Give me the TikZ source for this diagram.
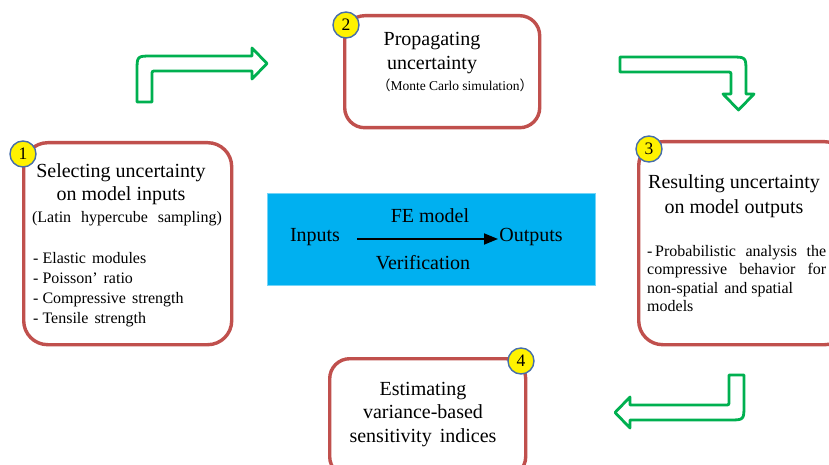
\documentclass[tikz,border=0pt]{standalone}
\usepackage{fontspec}
\setmainfont{Liberation Serif}
\newfontfamily\cjkfont{Noto Sans CJK SC}
\usetikzlibrary{arrows.meta}
\definecolor{boxred}{RGB}{192,80,77}
\definecolor{arrgreen}{RGB}{0,176,80}
\definecolor{skyblue}{RGB}{0,176,240}
\definecolor{numborder}{RGB}{70,110,170}
\begin{document}
\begin{tikzpicture}[x=1pt,y=-1pt,
  stage/.style={draw=boxred, line width=3.4pt, rounded corners=24pt, fill=white, inner sep=0pt},
  num/.style={circle, draw=numborder, line width=1.4pt, fill=yellow, minimum size=26pt, inner sep=0pt, font=\fontsize{17.5}{17.5}\selectfont},
  title/.style={align=center, font=\fontsize{20}{23.5}\selectfont, inner sep=0pt},
  listtext/.style={align=left, font=\fontsize{16}{20}\selectfont, inner sep=0pt},
  bent/.style={draw=arrgreen, line width=2.8pt, fill=white, line join=round},
  lbl/.style={font=\fontsize{20}{23}\selectfont, inner sep=0pt}
]
\clip (0,0) rectangle (829,465);
\fill[white] (0,0) rectangle (829,465);

% green bent arrows
\draw[bent] (137,102) -- (137,71) .. controls (137,56) .. (152,56) -- (252,56) -- (252,48) -- (267,63.5) -- (252,79) -- (252,71) -- (156,71) .. controls (152,71) .. (152,75) -- (152,102) -- cycle;
\draw[bent] (620,57) -- (731,57) .. controls (746,57) .. (746,72) -- (746,94) -- (754,94) -- (738.5,110) -- (723,94) -- (731,94) -- (731,76) .. controls (731,72) .. (727,72) -- (620,72) -- cycle;
\draw[bent] (744,375) -- (744,405) .. controls (744,420) .. (729,420) -- (630,420) -- (630,428) -- (615,412.5) -- (630,397) -- (630,405) -- (725,405) .. controls (729,405) .. (729,401) -- (729,375) -- cycle;

% stage boxes
\node[stage, minimum width=208pt, minimum height=202pt, anchor=north west] (b1) at (22,141) {};
\node[stage, rounded corners=20pt, minimum width=195pt, minimum height=112pt, anchor=north west] (b2) at (343,14) {};
\node[stage, minimum width=210pt, minimum height=203pt, anchor=north west] (b3) at (637,140) {};
\node[stage, rounded corners=20pt, minimum width=196pt, minimum height=118pt, anchor=north west] (b4) at (328,357) {};

% number badges
\node[num] (n1) at (23,154) {1};
\node[num] (n2) at (346,25) {2};
\node[num] (n3) at (649,149) {3};
\node[num] (n4) at (521,361) {4};

% box 1 text
\node[title] (t1) at (121,184) {Selecting uncertainty\\on model inputs};
\node[listtext, font=\fontsize{16}{20}\selectfont] (s1) at (127,219) {(Latin\hspace{10pt}hypercube\hspace{10pt}sampling)};
\node[listtext, anchor=west] (l1) at (33,290) {- Elastic\hspace{6pt}modules\\- Poisson’\hspace{6pt}ratio\\- Compressive\hspace{6pt}strength\\- Tensile\hspace{6pt}strength};

% box 2 text
\node[title] (t2) at (432,53) {Propagating\\uncertainty};
\node[lbl, font=\fontsize{13.5}{16}\selectfont] (s2) at (455,85) {{\cjkfont （}Monte Carlo simulation{\cjkfont ）}};

% box 3 text
\node[title, font=\fontsize{20}{25}\selectfont] (t3) at (734,196.5) {Resulting uncertainty\\on model outputs};
\node[listtext, anchor=west, font=\fontsize{16}{18.5}\selectfont] (l3) at (647,278.5) {\makebox[179pt][s]{-\,Probabilistic analysis the}\\\makebox[179pt][s]{compressive behavior for}\\non-spatial\hspace{6pt}and spatial\\models};

% box 4 text
\node[title] (t4) at (423,414.5) {Estimating\\variance-based\\sensitivity\hspace{8pt}indices};

% central model box
\node[fill=skyblue, draw=skyblue!55!white, line width=1pt, minimum width=328pt, minimum height=92pt, anchor=north west, inner sep=0pt] (model) at (267,193) {};
\node[lbl] (fe) at (430,216) {FE model};
\node[lbl] (in) at (315,237) {Inputs};
\node[lbl] (out) at (531,237) {Outputs};
\node[lbl] (ver) at (423,263) {Verification};
\coordinate (a0) at (357,239);
\coordinate (a1) at (498,239);
\draw[line width=1.8pt, -{Triangle[length=14pt,width=11pt]}] (a0) -- (a1);
\end{tikzpicture}
\end{document}
